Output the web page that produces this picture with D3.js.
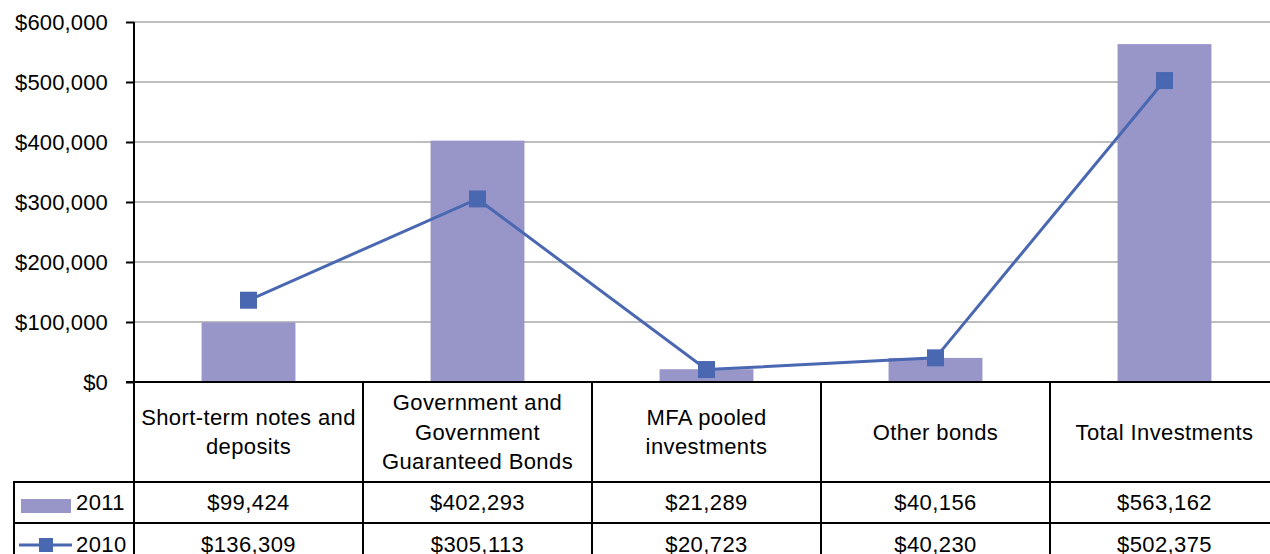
<!DOCTYPE html>
<html>
<head>
<meta charset="utf-8">
<script src="https://cdn.jsdelivr.net/npm/d3@7"></script>
<style>
  body { margin: 0; background: #fff; }
  svg { display: block; font-family: "Liberation Sans", Arial, sans-serif; }
  text { letter-spacing: 0.4px; }
  .tick text { letter-spacing: 0.15px; }
</style>
</head>
<body>
<svg id="chart"></svg>
<script>
// categories and series
const categories = ['Short-term notes and deposits', 'Government and Government Guaranteed Bonds', 'MFA pooled investments', 'Other bonds', 'Total Investments'];
const categoryLines = [
	['Short-term notes and', 'deposits'],
	['Government and', 'Government', 'Guaranteed Bonds'],
	['MFA pooled', 'investments'],
	['Other bonds'],
	['Total Investments']
];
const values2011 = [99424, 402293, 21289, 40156, 563162];
const values2010 = [136309, 305113, 20723, 40230, 502375];
const yTicks = [0, 100000, 200000, 300000, 400000, 500000, 600000];

const width = 1270, height = 554;
const barColor = '#9896c9';
const lineColor = '#4a67b1';
const fontSize = 22;

const svg = d3.select('#chart')
	.attr('width', width)
	.attr('height', height);

const x = d3.scaleBand().domain(categories).range([134, 1279]).padding(0);
const y = d3.scaleLinear().domain([0, 600000]).range([382, 22]);
const money = d => '$' + d3.format(',')(d);

// grid lines
svg.append('g')
	.selectAll('line')
	.data(yTicks.filter(d => d > 0))
	.join('line')
	.attr('x1', 134).attr('x2', width)
	.attr('y1', d => y(d)).attr('y2', d => y(d))
	.attr('stroke', '#bdbdbd')
	.attr('stroke-width', 2);

// bars (2011)
const barW = x.bandwidth() * 0.41;
svg.append('g')
	.selectAll('rect')
	.data(values2011)
	.join('rect')
	.attr('x', (d, i) => x(categories[i]) + (x.bandwidth() - barW) / 2)
	.attr('y', d => y(d))
	.attr('width', barW)
	.attr('height', d => y(0) - y(d))
	.attr('fill', barColor);

// line (2010)
const cx = (d, i) => x(categories[i]) + x.bandwidth() / 2;
svg.append('path')
	.datum(values2010)
	.attr('d', d3.line().x(cx).y(d => y(d)))
	.attr('fill', 'none')
	.attr('stroke', lineColor)
	.attr('stroke-width', 3);

svg.append('g')
	.selectAll('rect')
	.data(values2010)
	.join('rect')
	.attr('x', (d, i) => cx(d, i) - 8.5)
	.attr('y', d => y(d) - 8.5)
	.attr('width', 17)
	.attr('height', 17)
	.attr('fill', lineColor);

// y axis
const yAxis = svg.append('g')
	.attr('transform', 'translate(134,0)')
	.call(d3.axisLeft(y).tickValues(yTicks).tickSize(8).tickPadding(18).tickFormat(money));
yAxis.select('.domain').attr('stroke', '#000').attr('stroke-width', 2).attr('d', 'M0,22V382');
yAxis.selectAll('.tick line').attr('stroke', '#000').attr('stroke-width', 2);
yAxis.selectAll('.tick text')
	.attr('fill', '#000')
	.style('font-size', fontSize + 'px')
	.style('font-family', '"Liberation Sans", Arial, sans-serif');

// data table
const table = svg.append('g');
const rowBottom = 564;
const lw = 2;

// horizontal lines
table.append('line').attr('x1', 126).attr('x2', width).attr('y1', 382).attr('y2', 382)
	.attr('stroke', '#000').attr('stroke-width', lw);
[482, 523].forEach(yy => {
	table.append('line').attr('x1', 13).attr('x2', width).attr('y1', yy).attr('y2', yy)
		.attr('stroke', '#000').attr('stroke-width', lw);
});
// vertical lines
table.append('line').attr('x1', 14).attr('x2', 14).attr('y1', 482).attr('y2', rowBottom)
	.attr('stroke', '#000').attr('stroke-width', lw);
table.selectAll('.vline')
	.data(categories)
	.join('line')
	.attr('x1', d => x(d)).attr('x2', d => x(d))
	.attr('y1', 382).attr('y2', rowBottom)
	.attr('stroke', '#000').attr('stroke-width', lw);

// header labels
const hdr = table.selectAll('.hdr')
	.data(categoryLines)
	.join('text')
	.attr('text-anchor', 'middle')
	.attr('font-size', fontSize)
	.attr('fill', '#000');
hdr.each(function(lines, i) {
	const t = d3.select(this);
	const mid = (382 + 482) / 2;
	const lh = 29.5;
	lines.forEach((ln, j) => {
		t.append('tspan')
			.attr('x', x(categories[i]) + x.bandwidth() / 2)
			.attr('y', mid + (j - (lines.length - 1) / 2) * lh)
			.attr('dy', '0.35em')
			.text(ln);
	});
});

// value rows
[[values2011, 502.5], [values2010, 544]].forEach(([vals, yy]) => {
	table.append('g')
		.selectAll('text')
		.data(vals)
		.join('text')
		.attr('x', (d, i) => x(categories[i]) + x.bandwidth() / 2)
		.attr('y', yy)
		.attr('dy', '0.35em')
		.attr('text-anchor', 'middle')
		.attr('font-size', fontSize)
		.attr('fill', '#000')
		.text(d => money(d));
});

// legend keys
table.append('rect').attr('x', 21).attr('y', 499).attr('width', 50).attr('height', 14).attr('fill', barColor);
table.append('text').attr('x', 76).attr('y', 502.5).attr('dy', '0.35em')
	.attr('font-size', fontSize).attr('fill', '#000').text('2011');
table.append('line').attr('x1', 19).attr('x2', 72).attr('y1', 545).attr('y2', 545)
	.attr('stroke', lineColor).attr('stroke-width', 3);
table.append('rect').attr('x', 39).attr('y', 538).attr('width', 14).attr('height', 14).attr('fill', lineColor);
table.append('text').attr('x', 76).attr('y', 544).attr('dy', '0.35em')
	.attr('font-size', fontSize).attr('fill', '#000').text('2010');
</script>
</body>
</html>
